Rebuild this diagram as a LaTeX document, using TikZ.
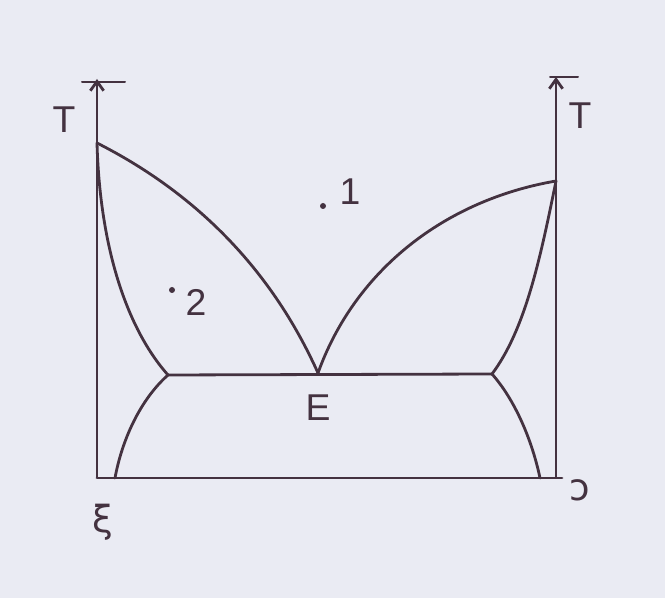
\documentclass[tikz,border=0pt]{standalone}
\usepackage{fontspec}
\setmainfont{Liberation Sans}
\newfontfamily\symfont{DejaVu Sans}
\usetikzlibrary{arrows.meta}
\definecolor{paper}{RGB}{234,235,243}
\definecolor{ink}{RGB}{68,50,64}
\tikzset{
  curve/.style={draw=ink, line width=2.1pt, line cap=round, line join=round},
  axis/.style={draw=ink, line width=2.1pt, -{Straight Barb[length=7pt,width=10pt]}},
  lbl/.style={text=ink, font=\fontsize{28}{28}\selectfont, inner sep=0pt},
  dotmark/.style={circle, fill=ink, inner sep=0pt, minimum size=4.5pt}
}
\begin{document}
\begin{tikzpicture}[x=0.75pt,y=-0.75pt]
\fill[paper] (0,0) rectangle (665,598);
\useasboundingbox (0,0) rectangle (665,598);
% key points
\coordinate (LB) at (97,478);
\coordinate (LT) at (97,79);
\coordinate (RB) at (556,478);
\coordinate (RT) at (556,77);
\coordinate (A) at (97,143);
\coordinate (B) at (556,181);
\coordinate (E) at (318,373);
\coordinate (P) at (168,375);
\coordinate (Q) at (492,374);
\coordinate (PB) at (115,478);
\coordinate (QB) at (540,478);
\coordinate (LX1) at (82,82);
\coordinate (LX2) at (125,82);
\coordinate (RX1) at (550,77);
\coordinate (RX2) at (578,77);
\coordinate (BE) at (562,478);
% axes
\draw[axis] (LB) -- (LT);
\draw[axis] (RB) -- (RT);
\draw[curve, line width=1.5pt] (LX1) -- (LX2);
\draw[curve, line width=1.5pt] (RX1) -- (RX2);
\draw[curve] (LB) -- (BE);
% liquidus
\draw[curve] (A) .. controls (180,185) and (265,255) .. (E);
\draw[curve] (E) .. controls (355,270) and (445,200) .. (B);
% solidus
\draw[curve] (A) .. controls (100,250) and (128,330) .. (P);
\draw[curve] (Q) .. controls (525,330) and (540,260) .. (B);
% eutectic line
\draw[curve] (P) -- (Q);
% solvus
\draw[curve] (P) .. controls (140,400) and (122,440) .. (PB);
\draw[curve] (Q) .. controls (515,400) and (532,440) .. (QB);
% labels
\node[lbl] (TL) at (64,120) {T};
\node[lbl] (TR) at (580,116) {T};
\node[dotmark] (d1) at (323,206) {};
\node[lbl] (n1) at (350,192) {1};
\node[dotmark] (d2) at (172,290) {};
\node[lbl] (n2) at (196,302) {2};
\node[lbl] (EL) at (318,408) {E};
\node[lbl] (BL) at (103,522) {\symfont ξ};
\node[lbl] (BR) at (580,490) {\symfont ɔ};
\end{tikzpicture}
\end{document}
